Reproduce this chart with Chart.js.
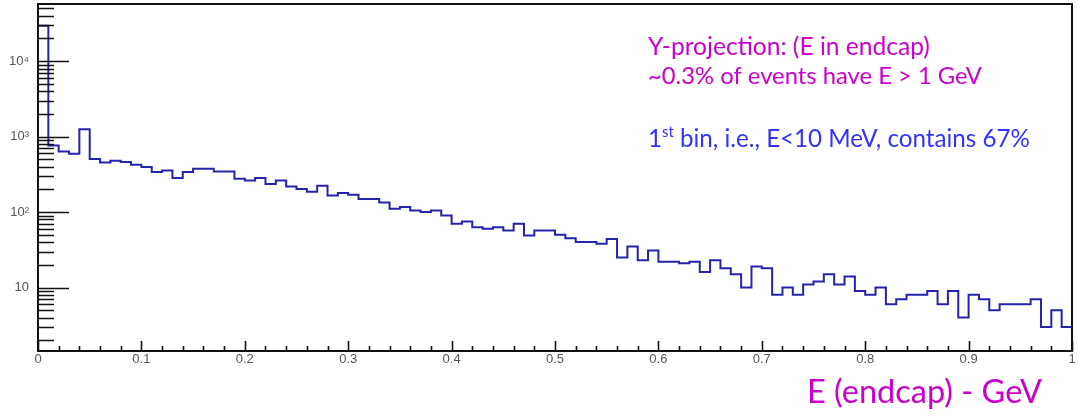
<!DOCTYPE html>
<html>
<head>
<meta charset="utf-8">
<title>E in endcap</title>
<script src="https://cdn.jsdelivr.net/npm/chart.js@4.4.1/dist/chart.umd.min.js"></script>
<style>
  html, body { margin: 0; padding: 0; background: #ffffff; }
  #wrap { width: 1078px; height: 417px; }
</style>
</head>
<body>
<div id="wrap"><canvas id="hist" width="1078" height="417"></canvas></div>
<script>
// Histogram of the endcap energy (GeV), 100 bins of 10 MeV on [0, 1]
const binWidth = 0.01;
const counts = [
  29500, 763, 635, 592, 1256, 504, 454, 479, 460, 424,
  395, 339, 356, 282, 339, 375, 375, 345, 345, 277,
  262, 282, 235, 262, 219, 202, 186, 223, 166, 179,
  170, 149, 149, 134, 111, 117, 105, 100, 105, 90,
  70, 75, 63, 60, 63, 57, 70, 49, 57, 57,
  50, 45, 40, 40, 38, 44, 25, 35, 23, 31,
  22, 22, 21, 22, 16, 23, 18, 15, 10, 19,
  18, 8, 10, 8, 11, 12, 15, 11, 14, 9,
  8, 10, 6, 7, 8, 8, 9, 6, 9, 4,
  8, 7, 5, 6, 6, 6, 7, 3, 5, 3
];

// Axis ticks and labels
const xMajorTicks = [0, 0.1, 0.2, 0.3, 0.4, 0.5, 0.6, 0.7, 0.8, 0.9, 1];
const xTickLabels = ['0', '0.1', '0.2', '0.3', '0.4', '0.5', '0.6', '0.7', '0.8', '0.9', '1'];
const xMinorStep = 0.02;
const yDecades = [10, 100, 1000, 10000];
const yDecadeLabels = ['10', '10\u00B2', '10\u00B3', '10\u2074'];
const yLimits = [1.44, 57300];

// Text drawn on the pad
const infoLines = ['Y-projection: (E in endcap)', '~0.3% of events have E > 1 GeV'];
const firstBinNote = ['1', 'st', ' bin, i.e., E<10 MeV, contains 67%'];
const axisTitle = 'E (endcap) - GeV';

// Step outline: one point at each bin's lower edge, plus the upper edge of the last bin
const points = counts.map((c, i) => ({ x: i * binWidth, y: c }));
points.push({ x: counts.length * binWidth, y: counts[counts.length - 1] });

const TEXT_FONT = 'Lato, "Open Sans", "Liberation Sans", sans-serif';
const TICK_FONT = { family: '"Liberation Sans", Arial, sans-serif', size: 13 };

function fitSize(ctx, parts, width) {
  // parts: [{text, sup}] -> font size (px) so the run spans the given width
  const ref = 100;
  let w = 0;
  parts.forEach(p => {
    ctx.font = (p.sup ? ref * 0.62 : ref) + 'px ' + TEXT_FONT;
    w += ctx.measureText(p.text).width;
  });
  return ref * width / w;
}

function drawRun(ctx, parts, x, baseline, width, color) {
  const size = fitSize(ctx, parts, width);
  ctx.fillStyle = color;
  ctx.textAlign = 'left';
  ctx.textBaseline = 'alphabetic';
  let cx = x;
  parts.forEach(p => {
    const s = p.sup ? size * 0.62 : size;
    ctx.font = s + 'px ' + TEXT_FONT;
    ctx.fillText(p.text, cx, p.sup ? baseline - size * 0.4 : baseline);
    cx += ctx.measureText(p.text).width;
  });
}

const padFrame = {
  id: 'padFrame',
  afterDatasetsDraw(chart) {
    const { ctx, chartArea: a, scales } = chart;
    const xs = scales.x, ys = scales.y;
    ctx.save();
    ctx.strokeStyle = '#111111';
    ctx.lineWidth = 2;
    ctx.strokeRect(a.left, a.top, a.right - a.left, a.bottom - a.top);

    // y ticks (inside, logarithmic: decades long, 2..9 short)
    ctx.lineWidth = 1.6;
    ctx.beginPath();
    for (let k = 0; k <= 5; k++) {
      for (let m = 1; m <= 9; m++) {
        const v = m * Math.pow(10, k);
        if (v < ys.min || v > ys.max) continue;
        const py = Math.round(ys.getPixelForValue(v)) + 0.5;
        const len = m === 1 ? 31 : 16;
        ctx.moveTo(a.left, py);
        ctx.lineTo(a.left + len, py);
      }
    }
    // x ticks (inside, pointing up)
    const nMinor = Math.round((xs.max - xs.min) / xMinorStep);
    for (let k = 0; k <= nMinor; k++) {
      const v = xs.min + k * xMinorStep;
      const px = Math.round(xs.getPixelForValue(v)) + 0.5;
      const len = k % 5 === 0 ? 10 : 5;
      ctx.moveTo(px, a.bottom);
      ctx.lineTo(px, a.bottom - len);
    }
    ctx.stroke();
    ctx.restore();
  },
  afterDraw(chart) {
    const ctx = chart.ctx;
    ctx.save();
    drawRun(ctx, [{ text: infoLines[0] }], 648, 55, 282, '#cc00cc');
    drawRun(ctx, [{ text: infoLines[1] }], 648, 83.5, 334, '#cc00cc');
    drawRun(ctx, [
      { text: firstBinNote[0] },
      { text: firstBinNote[1], sup: true },
      { text: firstBinNote[2] }
    ], 648, 146.5, 382, '#3333ff');
    drawRun(ctx, [{ text: axisTitle }], 807, 403, 235, '#cc00cc');
    ctx.restore();
  }
};

new Chart(document.getElementById('hist'), {
  type: 'line',
  data: {
    datasets: [{
      data: points,
      stepped: 'before',
      borderColor: '#2424aa',
      borderWidth: 2,
      pointRadius: 0,
      fill: false,
      tension: 0
    }]
  },
  options: {
    responsive: false,
    animation: false,
    events: [],
    layout: { padding: { top: 4, right: 6, left: 0, bottom: 0 } },
    plugins: { legend: { display: false }, tooltip: { enabled: false } },
    scales: {
      x: {
        type: 'linear',
        min: 0,
        max: 1,
        grid: { display: false, drawTicks: false },
        border: { display: false },
        afterBuildTicks(scale) { scale.ticks = xMajorTicks.map(v => ({ value: v })); },
        afterFit(scale) {
          scale.height = 66;
          scale.paddingLeft = 0;
          scale.paddingRight = 0;
        },
        ticks: {
          autoSkip: false,
          maxRotation: 0,
          padding: 1,
          color: '#555555',
          font: TICK_FONT,
          callback(value) {
            const i = xMajorTicks.findIndex(t => Math.abs(t - value) < 1e-9);
            return i >= 0 ? xTickLabels[i] : '';
          }
        }
      },
      y: {
        type: 'logarithmic',
        min: yLimits[0],
        max: yLimits[1],
        grid: { display: false, drawTicks: false },
        border: { display: false },
        afterBuildTicks(scale) { scale.ticks = yDecades.map(v => ({ value: v, major: true })); },
        afterFit(scale) {
          scale.width = 38;
          scale.paddingTop = 0;
          scale.paddingBottom = 0;
        },
        ticks: {
          autoSkip: false,
          padding: 9,
          color: '#555555',
          font: TICK_FONT,
          callback(value) {
            const i = yDecades.indexOf(value);
            return i >= 0 ? yDecadeLabels[i] : '';
          }
        }
      }
    }
  },
  plugins: [padFrame]
});
</script>
</body>
</html>
